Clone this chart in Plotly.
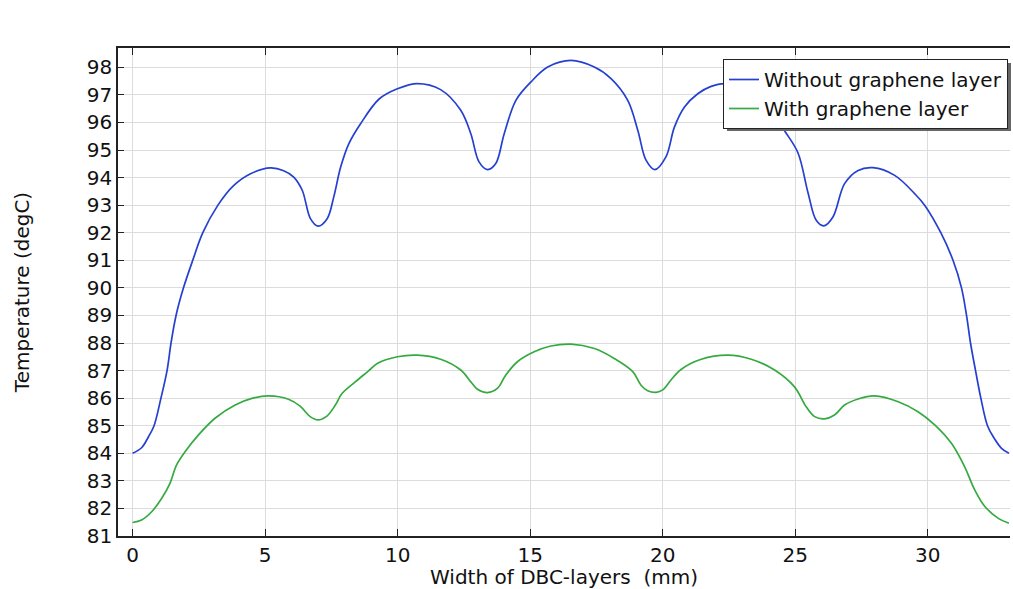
import plotly.graph_objects as go

x_blue = [0, 0.34, 0.6, 0.81, 1.07, 1.3, 1.45, 1.64, 1.92, 2.27, 2.65, 3.22, 3.8, 4.45, 5.2, 5.7, 6.08, 6.4, 6.71, 6.99,
          7.34, 7.59, 7.85, 8.16, 8.6, 9.3, 9.99, 10.74, 11.62, 12.38, 12.76, 13.07, 13.39, 13.7, 14.02, 14.46, 15.02,
          15.66, 16.54, 17.42, 18.05, 18.68, 19.06, 19.37, 19.7, 20.12, 20.44, 20.82, 21.32, 21.8, 22.35, 23.2, 23.9,
          24.59, 25.1, 25.48, 25.79, 26.08, 26.42, 26.86, 27.37, 27.93, 28.75, 29.5, 29.88, 30.49, 30.95, 31.27, 31.46,
          31.61, 31.8, 32.0, 32.25, 32.5, 32.78, 33.06]
y_blue = [84.0, 84.2, 84.6, 85.0, 86.0, 87.0, 88.0, 89.0, 90.0, 91.0, 92.0, 93.0, 93.7, 94.14, 94.35, 94.25, 94.02, 93.54,
          92.51, 92.24, 92.51, 93.3, 94.38, 95.23, 95.95, 96.85, 97.22, 97.41, 97.19, 96.44, 95.59, 94.57, 94.29, 94.51,
          95.59, 96.8, 97.46, 98.01, 98.25, 98.01, 97.59, 96.8, 95.71, 94.63, 94.29, 94.75, 95.83, 96.56, 97.04, 97.3,
          97.41, 97.2, 96.75, 95.71, 94.9, 93.45, 92.45, 92.25, 92.57, 93.78, 94.26, 94.36, 94.08, 93.42, 93.0, 92.0,
          91.0, 90.0, 89.0, 88.0, 87.0, 86.0, 85.0, 84.55, 84.18, 84.0]

x_green = [0, 0.34, 0.72, 1.1, 1.41, 1.66, 1.98, 2.48, 3.11, 3.87, 4.5, 5.13, 5.88, 6.32, 6.7, 6.99, 7.33, 7.65, 7.9,
           8.4, 8.9, 9.23, 9.99, 10.74, 11.62, 12.38, 12.76, 13.01, 13.39, 13.77, 14.08, 14.52, 15.15, 15.78, 16.54,
           17.42, 18.17, 18.87, 19.18, 19.43, 19.75, 20.0, 20.31, 20.69, 21.45, 22.46, 23.34, 24.22, 24.97, 25.41,
           25.73, 26.1, 26.48, 26.86, 27.37, 27.99, 28.88, 29.63, 30.26, 30.89, 31.39, 31.77, 32.15, 32.66, 33.06]
y_green = [81.49, 81.58, 81.88, 82.37, 82.91, 83.58, 84.06, 84.66, 85.27, 85.75, 85.99, 86.08, 85.96, 85.71, 85.33,
           85.21, 85.35, 85.75, 86.17, 86.59, 86.99, 87.26, 87.5, 87.56, 87.41, 87.02, 86.59, 86.32, 86.2, 86.36,
           86.84, 87.32, 87.68, 87.89, 87.96, 87.8, 87.44, 86.96, 86.47, 86.27, 86.21, 86.3, 86.66, 87.04, 87.41,
           87.56, 87.41, 87.02, 86.41, 85.69, 85.33, 85.25, 85.39, 85.75, 85.97, 86.08, 85.87, 85.51, 85.03, 84.36,
           83.51, 82.67, 82.07, 81.64, 81.46]

series_names = ["Without graphene layer", "With graphene layer"]
x_ticks = [0, 5, 10, 15, 20, 25, 30]
y_ticks = list(range(81, 99))

FONT = "DejaVu Sans"
FS = 20
W, H = 1013, 589
# plot area in window pixels: left 118, right 1010, top 48, bottom 536
ml, mt = 118, 48
mr = W - 1010
mb = H - 536
pw, ph = W - ml - mr, H - mt - mb

def wx(px):
    return (px - ml) / pw

def wy(py):
    return (H - mb - py) / ph

fig = go.Figure()
fig.add_trace(go.Scatter(x=x_blue, y=y_blue, mode="lines", name=series_names[0],
                         line=dict(color="#2540d0", width=1.7, shape="spline", smoothing=1.0)))
fig.add_trace(go.Scatter(x=x_green, y=y_green, mode="lines", name=series_names[1],
                         line=dict(color="#35aa40", width=1.7, shape="spline", smoothing=1.0)))

# legend drop shadow
fig.add_shape(type="rect", xref="paper", yref="paper",
              x0=wx(727), x1=wx(1011), y0=wy(131), y1=wy(63),
              fillcolor="#666666", line=dict(width=0), layer="above")

fig.update_layout(
    width=W, height=H,
    margin=dict(l=ml, r=mr, t=mt, b=mb),
    paper_bgcolor="white", plot_bgcolor="white",
    font=dict(family=FONT, size=FS, color="#111111"),
    showlegend=True,
    legend=dict(x=wx(1008), xanchor="right", y=wy(59), yanchor="top",
                bgcolor="white", bordercolor="#222222", borderwidth=1,
                font=dict(family=FONT, size=FS, color="#111111"),
                itemwidth=30, tracegroupgap=0),
)
fig.update_xaxes(range=[-0.55, 33.1], tickvals=x_ticks, ticks="inside", ticklen=7, tickcolor="#222222",
                 showline=True, linecolor="#222222", linewidth=1.5, mirror="ticks",
                 showgrid=True, gridcolor="#dcdcdc", gridwidth=1, zeroline=False,
                 tickfont=dict(size=FS),
                 title=dict(text="Width of DBC-layers  (mm)", font=dict(size=FS), standoff=2))
fig.update_yaxes(range=[81, 98.7], tickvals=y_ticks, ticks="inside", ticklen=6, tickcolor="#222222",
                 showline=True, linecolor="#222222", linewidth=1.5,
                 showgrid=True, gridcolor="#dcdcdc", gridwidth=1, zeroline=False,
                 tickfont=dict(size=FS),
                 title=dict(text="Temperature (degC)", font=dict(size=FS), standoff=52))

fig.write_html("out.html", config={"displayModeBar": False},
               post_script="document.body.style.margin='0px';document.body.style.overflow='hidden';"
                           "document.documentElement.style.overflow='hidden';")
